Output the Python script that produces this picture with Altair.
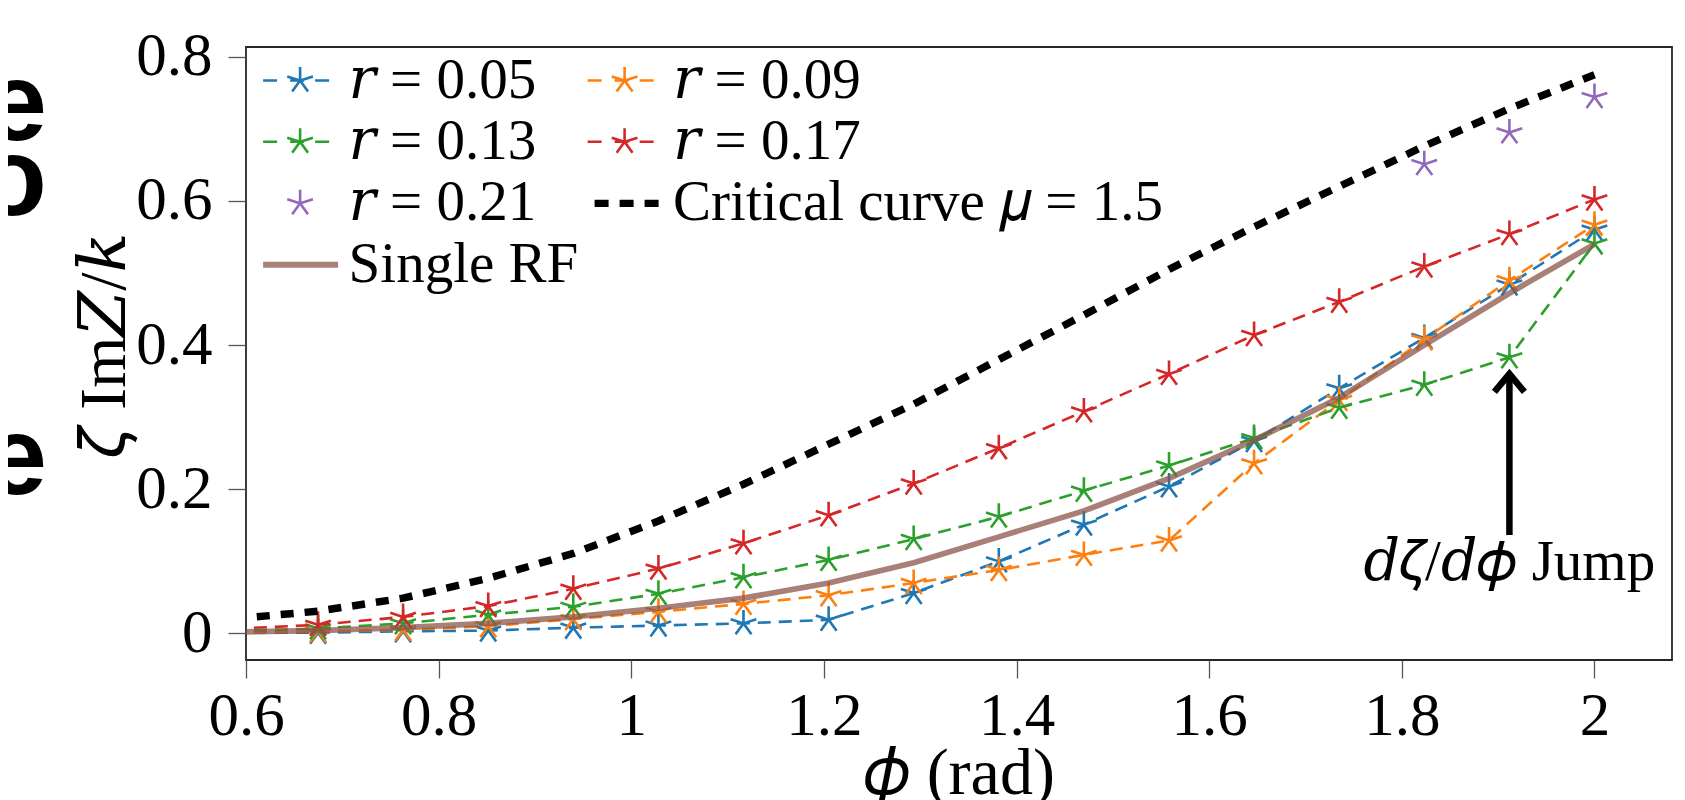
import math
import altair as alt
import pandas as pd

# ---------------- data ----------------
phi = [0.5864, 0.6748, 0.7631, 0.8515, 0.9398, 1.0282, 1.1165, 1.2049, 1.2932,
       1.3816, 1.4699, 1.5583, 1.6466, 1.7350, 1.8233, 1.9117, 2.0]
r005 = [0.001, 0.001, 0.003, 0.004, 0.008, 0.011, 0.014, 0.019, 0.056,
        0.100, 0.151, 0.204, 0.267, 0.340, 0.410, 0.484, 0.560]
r009 = [0.001, 0.003, 0.005, 0.010, 0.020, 0.030, 0.041, 0.053, 0.070,
        0.088, 0.109, 0.129, 0.236, 0.324, 0.408, 0.490, 0.567]
r013 = [0.003, 0.007, 0.014, 0.026, 0.037, 0.055, 0.078, 0.102, 0.131,
        0.162, 0.198, 0.233, 0.271, 0.313, 0.345, 0.383, 0.541]
r017 = [0.0065, 0.012, 0.023, 0.038, 0.062, 0.090, 0.125, 0.164, 0.208,
        0.257, 0.308, 0.360, 0.414, 0.460, 0.509, 0.554, 0.602]
phi021 = [1.8233, 1.9117, 2.0]
r021 = [0.651, 0.695, 0.744]
critical = [0.020, 0.031, 0.049, 0.0765, 0.111, 0.156, 0.207, 0.2625, 0.318,
            0.380, 0.4417, 0.505, 0.564, 0.620, 0.676, 0.728, 0.775]
single_rf = [0.002, 0.004, 0.008, 0.014, 0.023, 0.035, 0.049, 0.070, 0.098,
             0.134, 0.170, 0.215, 0.268, 0.327, 0.400, 0.472, 0.540]

names = ["𝑟 = 0.05", "𝑟 = 0.09", "𝑟 = 0.13", "𝑟 = 0.17", "𝑟 = 0.21",
         "Critical curve 𝜇 = 1.5", "Single RF"]
colors = ["#1f77b4", "#ff7f0e", "#2ca02c", "#d62728", "#9467bd", "#000000", "#a98078"]
# legend fills column by column: 2 columns, 4 rows
legend_order = [0, 2, 4, 6, 1, 3, 5]

x_ticks = [0.6, 0.8, 1.0, 1.2, 1.4, 1.6, 1.8, 2.0]
y_ticks = [0, 0.2, 0.4, 0.6, 0.8]

# annotation
arrow_x = [1.9117]
arrow_y_tail = [0.1366]
arrow_y_tip = [0.360]
note_y = [0.074]
note_text = ["𝑑𝜁/𝑑𝜙 Jump"]

SERIF = "Liberation Serif, DejaVu Serif"

# ---------------- symbol shapes ----------------
STAR_ANGLES = [90, 162, 234, 306, 18]
STAR = "".join(
    f"M0,0L{math.cos(math.radians(a)):.3f},{-math.sin(math.radians(a)):.3f}"
    for a in STAR_ANGLES)
CHEVRON = "M-1,1.2L0,0L1,1.2"

U = 25.0  # legend path unit in px (sqrt(symbolSize)/2)


def seg(x0, y0, x1, y1, hw):
    dx, dy = x1 - x0, y1 - y0
    L = math.hypot(dx, dy)
    ux, uy = dx / L, dy / L
    nx, ny = -uy * hw, ux * hw
    pts = [(x0 + nx, y0 + ny), (x1 + nx, y1 + ny), (x1 - nx, y1 - ny), (x0 - nx, y0 - ny)]
    return "M" + "L".join(f"{px / U:.3f},{py / U:.3f}" for px, py in pts) + "Z"


def star_poly(r=13.5, hw=1.3):
    out = ""
    for a in STAR_ANGLES:
        c, s = math.cos(math.radians(a)), -math.sin(math.radians(a))
        out += seg(-c * hw, -s * hw, c * r, s * r, hw)
    return out


dash_star = (seg(-37, 0, -23, 0, 1.3) + seg(-10, 0, 4, 0, 1.3) + seg(15, 0, 29, 0, 1.3)
             + star_poly())
star_only = star_poly()
crit_sym = seg(-30, 0, -16, 0, 3.6) + seg(-5, 0, 9, 0, 3.6) + seg(20, 0, 34, 0, 3.6)
rf_sym = seg(-37, 0, 38, 0, 3.0)
legend_paths = [dash_star, dash_star, dash_star, dash_star, star_only, crit_sym, rf_sym]

leg_names = [names[i] for i in legend_order]
leg_colors = [colors[i] for i in legend_order]
leg_paths = [legend_paths[i] for i in legend_order]

# ---------------- scales / axes ----------------
xscale = alt.Scale(domain=[0.6, 2.0805], nice=False, zero=False)
yscale = alt.Scale(domain=[-0.0368, 0.8135], nice=False, zero=False)
xaxis = alt.Axis(values=x_ticks, format="~g", title="𝜙 (rad)", titleX=713, titleY=133,
                 titleBaseline="alphabetic", labelFlush=False, labelOverlap=False)
yaxis = alt.Axis(values=y_ticks, format="~g", title="𝜁 Im𝑍/𝑘", titleX=-122, titleY=297,
                 titleAngle=270, titleAlign="center", titleBaseline="alphabetic",
                 labelFlush=False, labelOverlap=False)


def enc(ch):
    return ch.encode(x=alt.X("x:Q", scale=xscale, axis=xaxis),
                     y=alt.Y("y:Q", scale=yscale, axis=yaxis))


layers = []
for vals, col in zip([r005, r009, r013, r017], colors[:4]):
    df = pd.DataFrame({"x": phi, "y": vals})
    layers.append(enc(alt.Chart(df).mark_line(color=col, strokeDash=[13, 8],
                                             strokeWidth=2.6, clip=True)))
    layers.append(enc(alt.Chart(df).mark_point(shape=STAR, size=729, filled=False,
                                              strokeWidth=2.6, color=col, opacity=1,
                                              clip=True)))

df21 = pd.DataFrame({"x": phi021, "y": r021})
layers.append(enc(alt.Chart(df21).mark_point(shape=STAR, size=729, filled=False,
                                            strokeWidth=2.6, color=colors[4], opacity=1,
                                            clip=True)))

dfc = pd.DataFrame({"x": phi, "y": critical})
layers.append(enc(alt.Chart(dfc).mark_line(color="black", strokeDash=[13, 11],
                                          strokeWidth=7.5, clip=True)))

dfr = pd.DataFrame({"x": phi, "y": single_rf})
layers.append(enc(alt.Chart(dfr).mark_line(color="#8c564b", opacity=0.75,
                                          strokeWidth=5.7, clip=True)))

# arrow + note
dfa = pd.DataFrame({"x": arrow_x, "y": arrow_y_tail, "y2": arrow_y_tip})
layers.append(alt.Chart(dfa).mark_rule(color="black", strokeWidth=6.5).encode(
    x=alt.X("x:Q", scale=xscale, axis=xaxis), y=alt.Y("y:Q", scale=yscale, axis=yaxis),
    y2="y2:Q"))
dft = pd.DataFrame({"x": arrow_x, "y": arrow_y_tip})
layers.append(enc(alt.Chart(dft).mark_point(shape=CHEVRON, size=900, filled=False,
                                           strokeWidth=6.5, color="black", opacity=1)))
dfn = pd.DataFrame({"x": arrow_x, "y": note_y, "t": note_text})
layers.append(enc(alt.Chart(dfn).mark_text(font=SERIF, fontSize=57, color="black",
                                          align="center", baseline="alphabetic")
                  ).encode(text="t:N"))

# fragments of the neighbouring panel at the far left
one = alt.Data(values=[{"k": 1}])
for ch, yb in [("e", 92.7), ("o", 167.7), ("e", 446.7)]:
    layers.append(alt.Chart(one).mark_text(font="Liberation Sans", fontWeight="bold",
                                           fontSize=112, color="black", align="right",
                                           baseline="alphabetic").encode(
        x=alt.value(-199), y=alt.value(yb), text=alt.value(ch)))

# legend carrier layer
leg = alt.Legend(orient="none", legendX=25.6, legendY=4.8, columns=2, columnPadding=8.5,
                 rowPadding=3.5, labelOffset=20, symbolOffset=0, padding=0, title=None,
                 labelFont=SERIF, labelFontSize=57, labelColor="black", labelLimit=1000,
                 symbolSize=2500, symbolStrokeWidth=0, symbolOpacity=1)
dfl = pd.DataFrame({"series": leg_names})
layers.append(alt.Chart(dfl).transform_filter("false").mark_point(
    filled=True, opacity=1, size=2500, strokeWidth=0).encode(
    color=alt.Color("series:N", scale=alt.Scale(domain=leg_names, range=leg_colors),
                    legend=leg),
    shape=alt.Shape("series:N", scale=alt.Scale(domain=leg_names, range=leg_paths),
                    legend=leg)))

chart = alt.layer(*layers).properties(
    width=1426, height=613,
    padding={"left": 238, "top": 39, "right": 4, "bottom": 140},
    autosize=alt.AutoSizeParams(type="none"),
).configure_view(stroke="#262626", strokeWidth=1.8).configure_axis(
    grid=False, domain=False, tickColor="#555555", tickWidth=1.3, tickSize=18,
    labelFont=SERIF, labelFontSize=61, labelColor="black",
    titleFont=SERIF, titleFontSize=66, titleColor="black", titleFontWeight="normal",
).configure_axisX(labelPadding=8).configure_axisY(labelPadding=16)

chart.save("out.html", embed_options={"renderer": "svg", "actions": False})
